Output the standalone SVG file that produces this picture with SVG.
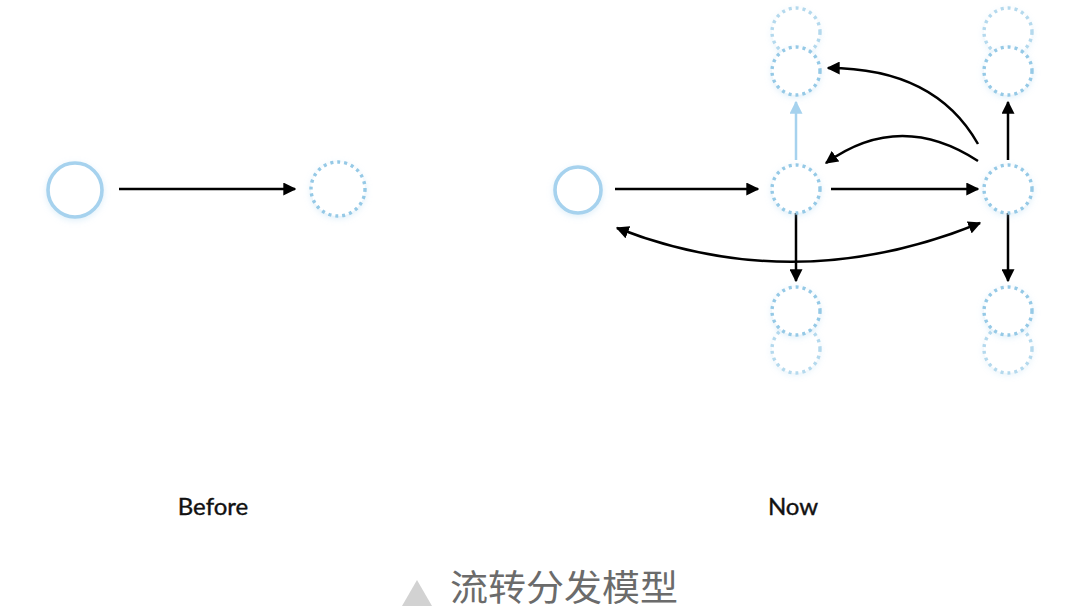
<svg xmlns="http://www.w3.org/2000/svg" width="1080" height="613" viewBox="0 0 1080 613">
<style>
.solid{fill:#fff;stroke:#a6d2ee;stroke-width:3.6;filter:url(#glow)}
.dot{fill:#fff;stroke:#95c9e6;stroke-width:3.4;stroke-dasharray:3 4;filter:url(#glow)}
.back{opacity:0.7}
.edge{fill:none;stroke:#000;stroke-width:2.5}
.edge-blue{fill:none;stroke:#a6d2ee;stroke-width:2.5}
.lbl{font-family:Lato,"Liberation Sans",sans-serif;font-size:24px;fill:#111;stroke:#111;stroke-width:0.4;text-anchor:middle}
.cap{font-family:"Noto Sans CJK SC",sans-serif;font-size:36px;fill:#6b6b6b}
</style>
<defs>
<filter id="glow" x="-40%" y="-40%" width="180%" height="180%">
<feDropShadow dx="0" dy="2" stdDeviation="3" flood-color="#a6d2ee" flood-opacity="0.35"/>
</filter>
<marker id="ah" viewBox="0 0 10 10" refX="9" refY="5" markerWidth="5.2" markerHeight="5.2" orient="auto-start-reverse" markerUnits="strokeWidth">
<path d="M0,0 L10,5 L0,10 z" fill="#000"/>
</marker>
<marker id="ahb" viewBox="0 0 10 10" refX="9" refY="5" markerWidth="5.2" markerHeight="5.2" orient="auto-start-reverse" markerUnits="strokeWidth">
<path d="M0,0 L10,5 L0,10 z" fill="#a6d2ee"/>
</marker>
</defs>
<rect width="1080" height="613" fill="#fff"/>

<g id="connectors">
<path class="edge" d="M119,189 L295,189" marker-end="url(#ah)"/>
<path class="edge" d="M615,189 L758,189" marker-end="url(#ah)"/>
<path class="edge" d="M831,189 L978,189" marker-end="url(#ah)"/>
<path class="edge-blue" d="M796,160 L796,102" marker-end="url(#ahb)"/>
<path class="edge" d="M1008,160 L1008,102" marker-end="url(#ah)"/>
<path class="edge" d="M796,213 L796,281" marker-end="url(#ah)"/>
<path class="edge" d="M1008,213 L1008,281" marker-end="url(#ah)"/>
<path class="edge" d="M978,144 C952,98 905,68 828,68" marker-end="url(#ah)"/>
<path class="edge" d="M978,161 Q900,110 826,163" marker-end="url(#ah)"/>
<path class="edge" d="M617,228 Q796,298 980,223" marker-start="url(#ah)" marker-end="url(#ah)"/>
</g>

<g id="before-source"><circle class="solid" cx="75" cy="190" r="27"/></g>
<g id="before-target"><circle class="dot" cx="338" cy="189" r="27"/></g>

<g id="now-source"><circle class="solid" cx="578" cy="190" r="23"/></g>
<g id="now-mid"><circle class="dot" cx="796" cy="189" r="24"/></g>
<g id="now-right"><circle class="dot" cx="1008" cy="189" r="24"/></g>

<g id="mid-top-back" class="back"><circle class="dot" cx="796" cy="32" r="24"/></g>
<g id="mid-top"><circle class="dot" cx="796" cy="71" r="24"/></g>
<g id="right-top-back" class="back"><circle class="dot" cx="1008" cy="32" r="24"/></g>
<g id="right-top"><circle class="dot" cx="1008" cy="71" r="24"/></g>

<g id="mid-bottom-back" class="back"><circle class="dot" cx="796" cy="349" r="24"/></g>
<g id="mid-bottom"><circle class="dot" cx="796" cy="311" r="24"/></g>
<g id="right-bottom-back" class="back"><circle class="dot" cx="1008" cy="349" r="24"/></g>
<g id="right-bottom"><circle class="dot" cx="1008" cy="311" r="24"/></g>

<text class="lbl" x="213" y="515">Before</text>
<text class="lbl" x="793" y="515">Now</text>

<path d="M402,606 L417,580 L432,606 z" fill="#d2d2d2"/>
<text class="cap" x="450" y="601" textLength="228" lengthAdjust="spacingAndGlyphs">流转分发模型</text>
</svg>
